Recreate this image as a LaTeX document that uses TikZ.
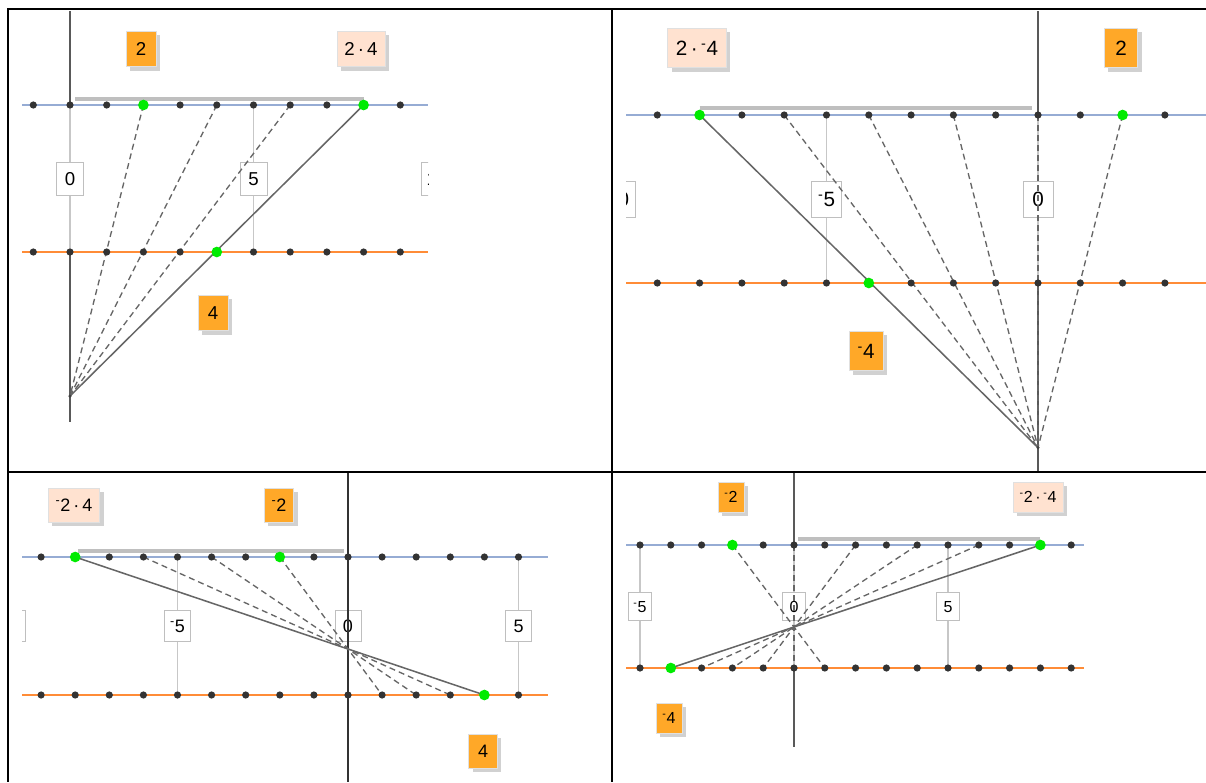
\documentclass[tikz,border=0pt]{standalone}
\usepackage{fontspec}
\setmainfont{Liberation Sans}
\usepackage{xcolor}
\definecolor{numblue}{RGB}{150,172,212}
\definecolor{numorange}{RGB}{255,140,55}
\definecolor{facorange}{RGB}{255,168,40}
\definecolor{prodpeach}{RGB}{255,226,208}
\definecolor{hitgreen}{RGB}{0,235,0}
\usetikzlibrary{calc,shadows}
\newcommand{\opp}{\textsuperscript{-}}
\tikzset{
  bline/.style={draw=numblue,line width=1.6pt},
  oline/.style={draw=numorange,line width=1.6pt},
  yaxis/.style={draw=black!65,line width=1.1pt},
  tickln/.style={draw=black!22,line width=.8pt},
  tlbl/.style={draw=black!25,fill=white,inner xsep=.3em,inner ysep=0pt,%
    minimum height=1.75em,minimum width=1.45em,text height=.72em,text depth=0pt},
  fac/.style={fill=facorange,draw=black!12,inner xsep=.4em,inner ysep=0pt,%
    minimum height=1.9em,minimum width=1.6em,text height=.72em,text depth=0pt,%
    drop shadow={shadow xshift=3pt,shadow yshift=-3pt,fill=black!18,opacity=1}},
  prod/.style={fac,fill=prodpeach},
  prodbar/.style={draw=black!25,line width=3pt},
  fan/.style={draw=black!60,line width=1.15pt},
  fandash/.style={fan,line width=1pt,dash pattern=on 4.5pt off 3pt},
  tdot/.style={circle,fill=black!80,inner sep=0pt,minimum size=5.4pt},
  hit/.style={circle,fill=hitgreen,inner sep=0pt,minimum size=8pt},
  vx/.style={circle,fill=black!75,inner sep=0pt,minimum size=2.6pt},
  cellframe/.style={draw=black,line width=1.5pt},
}

\begin{document}
\begin{tikzpicture}[x=0.75pt,y=-0.75pt]
\useasboundingbox (0,0) rectangle (1206,782);

% 2 . 4
\begin{scope}
\fontsize{14}{16}\selectfont
\clip (22,11) rectangle (428,471);
\foreach \k in {-1,...,10} {
  \coordinate (b1-\k) at ({70+(\k)*36.7},105);
  \coordinate (o1-\k) at ({70+(\k)*36.7},252);
}
\coordinate (v1) at ($(b1-0)!1.98!(o1-0)$);
\draw[bline] (22,105) -- (428,105);
\draw[oline] (22,252) -- (428,252);
\foreach \k/\lab in {0/0,5/5,10/10} {
  \draw[tickln] (b1-\k) -- (o1-\k);
  \node[tlbl] (t1-\k) at ($(b1-\k)!.5!(o1-\k)$) {\lab};
}
\draw[yaxis] (70,11) -- (b1-0);
\draw[yaxis] (o1-0) -- (70,422);
\draw[prodbar] ($(b1-0)+(5,-6)$) -- ($(b1-8)+(0,-6)$);
\foreach \p in {2,4,6} \draw[fandash] (b1-\p) -- (v1);
\draw[fan] (b1-8) -- (v1);
\foreach \k in {-1,...,9} {
  \node[tdot] (db1-\k) at (b1-\k) {};
  \node[tdot] (do1-\k) at (o1-\k) {};
}
\node[hit] (g1-a) at (b1-2) {};
\node[hit] (g1-b) at (b1-8) {};
\node[hit] (g1-c) at (o1-4) {};
\node[vx] (vx1) at (v1) {};
\node[fac] (f1-a) at (141,49) {2};
\node[prod] (p1) at (361,49) {2\,·\,4};
\node[fac] (f1-b) at (213,313) {4};
\end{scope}

% 2 . -4
\begin{scope}
\fontsize{15.5}{17}\selectfont
\clip (626,11) rectangle (1206,471);
\foreach \k in {-10,...,4} {
  \coordinate (b2-\k) at ({1038+(\k)*42.3},115);
  \coordinate (o2-\k) at ({1038+(\k)*42.3},283);
}
\coordinate (v2) at ($(b2-0)!1.98!(o2-0)$);
\draw[bline] (626,115) -- (1206,115);
\draw[oline] (626,283) -- (1206,283);
\foreach \k/\lab in {-10/\opp10,-5/\opp5,0/0} {
  \draw[tickln] (b2-\k) -- (o2-\k);
  \node[tlbl] (t2-\k) at ($(b2-\k)!.5!(o2-\k)$) {\lab};
}
\draw[yaxis] (1038,11) -- (b2-0);
\draw[yaxis] (o2-0) -- (1038,471);
\draw[prodbar] ($(b2--8)+(0,-7)$) -- ($(b2-0)+(-6,-7)$);
\foreach \p in {2,0,-2,-4,-6} \draw[fandash] (b2-\p) -- (v2);
\draw[fan] (b2--8) -- (v2);
\foreach \k in {-9,...,3} {
  \node[tdot] (db2-\k) at (b2-\k) {};
  \node[tdot] (do2-\k) at (o2-\k) {};
}
\node[hit] (g2-a) at (b2-2) {};
\node[hit] (g2-b) at (b2--8) {};
\node[hit] (g2-c) at (o2--4) {};
\node[vx] (vx2) at (v2) {};
\node[prod] (p2) at (697,48) {2\,·\,\opp4};
\node[fac] (f2-a) at (1121,48) {2};
\node[fac] (f2-b) at (866,351) {\opp4};
\end{scope}

% -2 . 4
\begin{scope}
\fontsize{13.5}{15}\selectfont
\clip (22,473) rectangle (548,782);
\foreach \k in {-10,...,6} {
  \coordinate (b3-\k) at ({348+(\k)*34.1},557);
  \coordinate (o3-\k) at ({348+(\k)*34.1},695);
}
\coordinate (v3) at ($(b3-0)!2/3!(o3-0)$);
\draw[bline] (22,557) -- (548,557);
\draw[oline] (22,695) -- (548,695);
\foreach \k/\lab in {-10/\opp10,-5/\opp5,0/0,5/5} {
  \draw[tickln] (b3-\k) -- (o3-\k);
  \node[tlbl] (t3-\k) at ($(b3-\k)!.5!(o3-\k)$) {\lab};
}
\draw[yaxis,line width=.8pt,draw=black!80] (348,473) -- (348,782);
\draw[prodbar] ($(b3--8)+(3,-6)$) -- ($(b3-0)+(-4,-6)$);
\foreach \p/\q in {-2/1,-4/2,-6/3} \draw[fandash] (b3-\p) -- (o3-\q);
\draw[fan] (b3--8) -- (o3-4);
\foreach \k in {-9,...,5} {
  \node[tdot] (db3-\k) at (b3-\k) {};
  \node[tdot] (do3-\k) at (o3-\k) {};
}
\node[hit] (g3-a) at (b3--8) {};
\node[hit] (g3-b) at (b3--2) {};
\node[hit] (g3-c) at (o3-4) {};
\node[prod] (p3) at (74,505) {\opp2\,·\,4};
\node[fac] (f3-a) at (279,505) {\opp2};
\node[fac] (f3-b) at (483,751) {4};
\end{scope}

% -2 . -4
\begin{scope}
\fontsize{12}{14}\selectfont
\clip (626,473) rectangle (1084,782);
\foreach \k in {-6,...,10} {
  \coordinate (b4-\k) at ({794+(\k)*30.8},545);
  \coordinate (o4-\k) at ({794+(\k)*30.8},668);
}
\coordinate (v4) at ($(b4-0)!2/3!(o4-0)$);
\draw[bline] (626,545) -- (1084,545);
\draw[oline] (626,668) -- (1084,668);
\foreach \k/\lab in {-5/\opp5,0/0,5/5} {
  \draw[tickln] (b4-\k) -- (o4-\k);
  \node[tlbl] (t4-\k) at ($(b4-\k)!.5!(o4-\k)$) {\lab};
}
\draw[yaxis] (794,473) -- (b4-0);
\draw[yaxis] (o4-0) -- (794,747);
\draw[prodbar] ($(b4-0)+(4,-6)$) -- ($(b4-8)+(0,-6)$);
\foreach \p/\q in {-2/1,0/0,2/-1,4/-2,6/-3} \draw[fandash] (b4-\p) -- (o4-\q);
\draw[fan] (b4-8) -- (o4--4);
\foreach \k in {-5,...,9} {
  \node[tdot] (db4-\k) at (b4-\k) {};
  \node[tdot] (do4-\k) at (o4-\k) {};
}
\node[hit] (g4-a) at (b4--2) {};
\node[hit] (g4-b) at (b4-8) {};
\node[hit] (g4-c) at (o4--4) {};
\node[fac] (f4-a) at (731,497) {\opp2};
\node[prod] (p4) at (1038,497) {\opp2\,·\,\opp4};
\node[fac] (f4-b) at (669,718) {\opp4};
\end{scope}

% table
\draw[cellframe] (7,9) -- (1206,9);
\draw[cellframe] (8,9) -- (8,782);
\draw[cellframe] (612,9) -- (612,782);
\draw[cellframe] (7,472) -- (1206,472);
\end{tikzpicture}
\end{document}
